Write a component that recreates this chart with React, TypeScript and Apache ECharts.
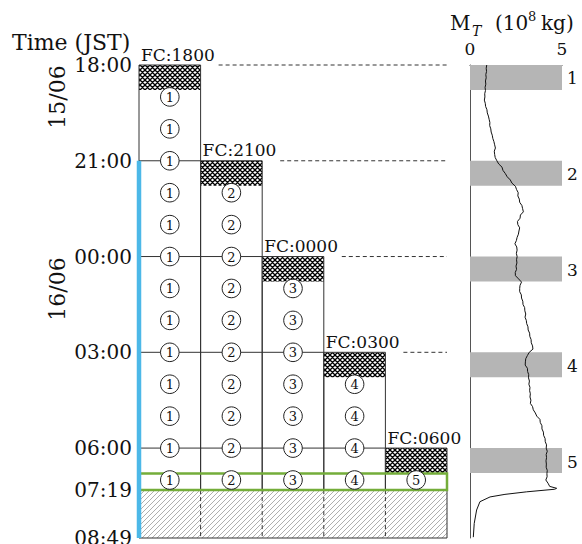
import React, { useEffect, useRef } from 'react';
import * as echarts from 'echarts';

// ---------- data ----------
const forecastLabels = ['FC:1800', 'FC:2100', 'FC:0000', 'FC:0300', 'FC:0600'];
const forecastStartHours = [0, 3, 6, 9, 12]; // hours after 15/06 18:00 JST
const spinupHours = 0.78;
const outputHours = [1, 2, 3, 4, 5, 6, 7, 8, 9, 10, 11, 12, 13];
const observationStartHour = 3;
const windowStartHour = 12.8;
const analysisEndHour = 13.3167; // 07:19
const endHour = 14.8167; // 08:49
const timeTickHours = [0, 3, 6, 9, 12, 13.3167, 14.8167];
const timeTickLabels = ['18:00', '21:00', '00:00', '03:00', '06:00', '07:19', '08:49'];
const massAxisMin = 0;
const massAxisMax = 5;
const bandLabels = ['1', '2', '3', '4', '5'];
// [hours after 18:00, M_T (10^8 kg)]
const massCurve: [number, number][] = [
  [0, 0.91], [0.1, 0.88], [0.2, 0.9], [0.3, 0.86], [0.4, 0.88], [0.5, 0.84], [0.6, 0.86], [0.7, 0.82],
  [0.8, 0.84], [0.9, 0.8], [1.0, 0.81], [1.1, 0.78], [1.2, 0.83], [1.3, 0.85], [1.4, 0.92], [1.5, 0.94],
  [1.6, 1.0], [1.7, 1.04], [1.8, 1.08], [1.9, 1.07], [2.0, 1.13], [2.1, 1.15], [2.2, 1.21], [2.3, 1.24],
  [2.4, 1.3], [2.5, 1.34], [2.6, 1.38], [2.7, 1.32], [2.8, 1.34], [2.9, 1.37], [3.0, 1.46], [3.1, 1.56],
  [3.2, 1.74], [3.3, 1.79], [3.4, 1.92], [3.5, 2.02], [3.6, 2.19], [3.7, 2.28], [3.8, 2.47], [3.9, 2.53],
  [4.0, 2.62], [4.1, 2.6], [4.2, 2.68], [4.3, 2.7], [4.4, 2.82], [4.5, 2.86], [4.6, 2.9], [4.7, 2.74],
  [4.8, 2.72], [4.9, 2.58], [5.0, 2.6], [5.1, 2.7], [5.2, 2.66], [5.3, 2.63], [5.4, 2.56], [5.5, 2.52],
  [5.6, 2.44], [5.7, 2.54], [5.8, 2.56], [5.9, 2.52], [6.0, 2.56], [6.1, 2.53], [6.2, 2.55], [6.3, 2.5],
  [6.4, 2.53], [6.5, 2.46], [6.6, 2.47], [6.7, 2.64], [6.8, 2.8], [6.9, 2.72], [7.0, 2.7], [7.1, 2.7],
  [7.2, 2.79], [7.3, 2.8], [7.4, 2.87], [7.5, 2.88], [7.6, 2.97], [7.7, 2.98], [7.8, 3.03], [7.9, 2.99],
  [8.0, 3.06], [8.1, 3.08], [8.2, 3.15], [8.3, 3.16], [8.4, 3.24], [8.5, 3.25], [8.6, 3.32], [8.7, 3.33],
  [8.8, 3.4], [8.9, 3.42], [9.0, 3.22], [9.1, 3.12], [9.2, 3.03], [9.3, 3.01], [9.4, 3.0], [9.5, 3.12],
  [9.6, 3.13], [9.7, 3.19], [9.8, 3.18], [9.9, 3.23], [10.0, 3.2], [10.1, 3.26], [10.2, 3.24], [10.3, 3.28],
  [10.4, 3.26], [10.5, 3.31], [10.6, 3.28], [10.7, 3.4], [10.8, 3.44], [10.9, 3.55], [11.0, 3.63], [11.1, 3.8],
  [11.2, 3.82], [11.3, 3.91], [11.4, 3.91], [11.5, 3.99], [11.6, 4.0], [11.7, 4.08], [11.8, 4.09], [11.9, 4.16],
  [12.0, 4.14], [12.1, 4.2], [12.2, 4.14], [12.3, 4.16], [12.4, 4.13], [12.5, 4.15], [12.6, 4.14], [12.7, 4.2],
  [12.8, 4.18], [12.9, 4.19], [13.0, 4.12], [13.1, 4.24], [13.2, 4.33], [13.26, 4.71], [13.29, 4.6],
  [13.37, 3.08], [13.45, 1.9], [13.53, 1.09], [13.68, 0.54], [13.94, 0.36], [14.36, 0.23], [14.79, 0.18],
];

const FONT = 'DejaVu Serif';
const INK = '#111';
const LINE = '#333';

function makePattern(size: number, draw: (ctx: CanvasRenderingContext2D, s: number) => void) {
  const c = document.createElement('canvas');
  c.width = size;
  c.height = size;
  const ctx = c.getContext('2d')!;
  draw(ctx, size);
  return { image: c.toDataURL(), repeat: 'repeat', imageWidth: size, imageHeight: size };
}

export default function App() {
  const ref = useRef<HTMLDivElement>(null);
  useEffect(() => {
    if (!ref.current) return;
    const cross = makePattern(5, (ctx, s) => {
      ctx.fillStyle = '#fff';
      ctx.fillRect(0, 0, s, s);
      ctx.strokeStyle = '#000';
      ctx.lineWidth = 1.35;
      ctx.beginPath();
      for (let k = -1; k <= 1; k++) {
        ctx.moveTo(-1, -1 + k * s);
        ctx.lineTo(s + 1, s + 1 + k * s);
      }
      for (let k = 0; k <= 2; k++) {
        ctx.moveTo(-1, 1 + k * s);
        ctx.lineTo(s + 1, -s - 1 + k * s);
      }
      ctx.stroke();
    });
    const diag = makePattern(5, (ctx, s) => {
      ctx.fillStyle = '#fff';
      ctx.fillRect(0, 0, s, s);
      ctx.strokeStyle = '#9a9a9a';
      ctx.lineWidth = 0.8;
      ctx.beginPath();
      for (let k = 0; k <= 2; k++) {
        ctx.moveTo(-1, 1 + k * s);
        ctx.lineTo(s + 1, -s - 1 + k * s);
      }
      ctx.stroke();
    });

    const n = forecastStartHours.length;
    const circleData: number[][] = [];
    forecastStartHours.forEach((s, i) => {
      outputHours.forEach((h) => {
        if (h > s) circleData.push([i + 0.5, h, i + 1]);
      });
    });

    const chart = echarts.init(ref.current, undefined, { renderer: 'svg' });
    const option: any = {
      animation: false,
      textStyle: { fontFamily: FONT },
      grid: [
        { left: 139, top: 65, width: 308, height: 473, outerBoundsMode: 'none' },
        { left: 470, top: 65, width: 92, height: 473, outerBoundsMode: 'none' },
      ],
      xAxis: [
        { gridIndex: 0, type: 'value', min: 0, max: n, show: false },
        {
          gridIndex: 1, type: 'value', min: massAxisMin, max: massAxisMax, interval: 5, position: 'top',
          axisLine: { show: true, onZero: false, lineStyle: { color: LINE, width: 1 } },
          axisTick: { show: false }, splitLine: { show: false },
          axisLabel: { fontSize: 17, color: INK, margin: 8, fontFamily: FONT },
        },
      ],
      yAxis: [
        {
          gridIndex: 0, type: 'value', min: 0, max: endHour, inverse: true,
          axisLine: { show: false }, axisTick: { show: false }, splitLine: { show: false },
          axisLabel: {
            customValues: timeTickHours,
            formatter: (v: number) => {
              const i = timeTickHours.findIndex((h) => Math.abs(h - v) < 1e-3);
              return i >= 0 ? timeTickLabels[i] : '';
            },
            fontSize: 20, color: INK, margin: 7, fontFamily: FONT,
          },
        },
        {
          gridIndex: 1, type: 'value', min: 0, max: endHour, inverse: true,
          axisLine: { show: true, onZero: false, lineStyle: { color: '#555', width: 1 } },
          axisTick: { show: false }, axisLabel: { show: false }, splitLine: { show: false },
        },
      ],
      series: [
        {
          type: 'custom', xAxisIndex: 0, yAxisIndex: 0, silent: true, z: 1,
          data: [[analysisEndHour, endHour]],
          renderItem: (params: any, api: any) => {
            const [xl, yt] = api.coord([0, api.value(0)]);
            const [xr, yb] = api.coord([n, api.value(1)]);
            return { type: 'rect', shape: { x: xl, y: yt, width: xr - xl, height: yb - yt }, style: { fill: diag, stroke: null } };
          },
        },
        {
          type: 'custom', xAxisIndex: 0, yAxisIndex: 0, silent: true, z: 2,
          data: forecastStartHours.map((s, i) => [i, s]),
          renderItem: (params: any, api: any) => {
            const i = api.value(0);
            const s = api.value(1);
            const [x0, y0] = api.coord([i, s]);
            const [x1, yE] = api.coord([i + 1, analysisEndHour]);
            const yB = api.coord([i + 1, endHour])[1];
            const yH = api.coord([i, s + spinupHours])[1];
            const xL = api.coord([0, s])[0];
            const xR = api.coord([n, s])[0];
            const st = { stroke: LINE, lineWidth: 1, fill: null };
            const children: any[] = [
              { type: 'rect', shape: { x: x0, y: y0, width: x1 - x0, height: yH - y0 }, style: { fill: cross, stroke: null } },
              { type: 'polyline', shape: { points: [[x0, yE], [x0, y0], [x1, y0], [x1, yE]] }, style: st },
              { type: 'line', shape: { x1: x1, y1: yE, x2: x1, y2: yB }, style: { ...st, lineDash: i === n - 1 ? null : [4, 3] } },
              { type: 'line', shape: { x1: x0, y1: yB, x2: x1, y2: yB }, style: st },
            ];
            if (i > 0) children.push({ type: 'line', shape: { x1: xL, y1: y0, x2: x0, y2: y0 }, style: st });
            if (i < n - 1) children.push({ type: 'line', shape: { x1: x1 + 18, y1: y0, x2: xR, y2: y0 }, style: { ...st, lineDash: [4, 3] } });
            children.push({
              type: 'text', x: x0 + 2, y: y0 - 2,
              style: { text: forecastLabels[i], fontSize: 17, fontFamily: FONT, fill: INK, align: 'left', verticalAlign: 'bottom' },
            });
            return { type: 'group', children };
          },
        },
        {
          type: 'custom', xAxisIndex: 0, yAxisIndex: 0, silent: true, z: 3,
          data: [[windowStartHour, analysisEndHour]],
          renderItem: (params: any, api: any) => {
            const [xl, yt] = api.coord([0, api.value(0)]);
            const [xr, yb] = api.coord([n, api.value(1)]);
            return { type: 'rect', shape: { x: xl, y: yt, width: xr - xl, height: yb - yt }, style: { fill: null, stroke: '#74ad3a', lineWidth: 2.5 } };
          },
        },
        {
          type: 'line', xAxisIndex: 0, yAxisIndex: 0, silent: true, z: 4, clip: false,
          data: [[0, observationStartHour], [0, endHour]],
          symbol: 'none', lineStyle: { color: '#4cb8e8', width: 4.5 },
        },
        {
          type: 'custom', xAxisIndex: 0, yAxisIndex: 0, silent: true, z: 5,
          data: circleData,
          renderItem: (params: any, api: any) => {
            const [cx, cy] = api.coord([api.value(0), api.value(1)]);
            return {
              type: 'group',
              children: [
                { type: 'circle', shape: { cx, cy, r: 9.3 }, style: { fill: '#fff', stroke: '#222', lineWidth: 1 } },
                { type: 'text', x: cx, y: cy + 0.5, style: { text: String(api.value(2)), fontSize: 13, fontFamily: FONT, fill: INK, align: 'center', verticalAlign: 'middle' } },
              ],
            };
          },
        },
        {
          type: 'custom', xAxisIndex: 1, yAxisIndex: 1, silent: true, z: 1,
          data: forecastStartHours.map((s, i) => [s, i]),
          renderItem: (params: any, api: any) => {
            const s = api.value(0);
            const i = api.value(1);
            const [xl, yt] = api.coord([massAxisMin, s]);
            const [xr, yb] = api.coord([massAxisMax, s + spinupHours]);
            return {
              type: 'group',
              children: [
                { type: 'rect', shape: { x: xl, y: yt, width: xr - xl, height: yb - yt }, style: { fill: '#b5b5b5', stroke: null } },
                { type: 'text', x: xr + 5, y: (yt + yb) / 2 + 1, style: { text: bandLabels[i], fontSize: 17, fontFamily: FONT, fill: INK, align: 'left', verticalAlign: 'middle' } },
              ],
            };
          },
        },
        {
          type: 'line', xAxisIndex: 1, yAxisIndex: 1, silent: true, z: 3, clip: false,
          data: massCurve.map(([t, m]) => [m, t]),
          symbol: 'none', lineStyle: { color: INK, width: 1 },
        },
      ],
      graphic: [
        { type: 'text', x: 12, y: 42, style: { text: 'Time (JST)', fontSize: 22, fontFamily: FONT, fill: INK, align: 'left', verticalAlign: 'middle' } },
        { type: 'text', x: 57, y: 97, rotation: Math.PI / 2, style: { text: '15/06', fontSize: 22, fontFamily: FONT, fill: INK, align: 'center', verticalAlign: 'middle' } },
        { type: 'text', x: 57, y: 289, rotation: Math.PI / 2, style: { text: '16/06', fontSize: 22, fontFamily: FONT, fill: INK, align: 'center', verticalAlign: 'middle' } },
        { type: 'text', x: 450, y: 23, style: { text: 'M', fontSize: 20, fontFamily: FONT, fill: INK, align: 'left', verticalAlign: 'middle' } },
        { type: 'text', x: 472, y: 31, style: { text: 'T', fontSize: 14, fontStyle: 'italic', fontFamily: FONT, fill: INK, align: 'left', verticalAlign: 'middle' } },
        { type: 'text', x: 495, y: 23, style: { text: '(10', fontSize: 20, fontFamily: FONT, fill: INK, align: 'left', verticalAlign: 'middle' } },
        { type: 'text', x: 528, y: 16, style: { text: '8', fontSize: 13, fontFamily: FONT, fill: INK, align: 'left', verticalAlign: 'middle' } },
        { type: 'text', x: 541, y: 23, style: { text: 'kg)', fontSize: 20, fontFamily: FONT, fill: INK, align: 'left', verticalAlign: 'middle' } },
      ],
    };
    chart.setOption(option);
    return () => chart.dispose();
  }, []);
  return <div ref={ref} style={{ position: 'absolute', left: 0, top: 0, width: 582, height: 544, background: '#fff' }} />;
}
